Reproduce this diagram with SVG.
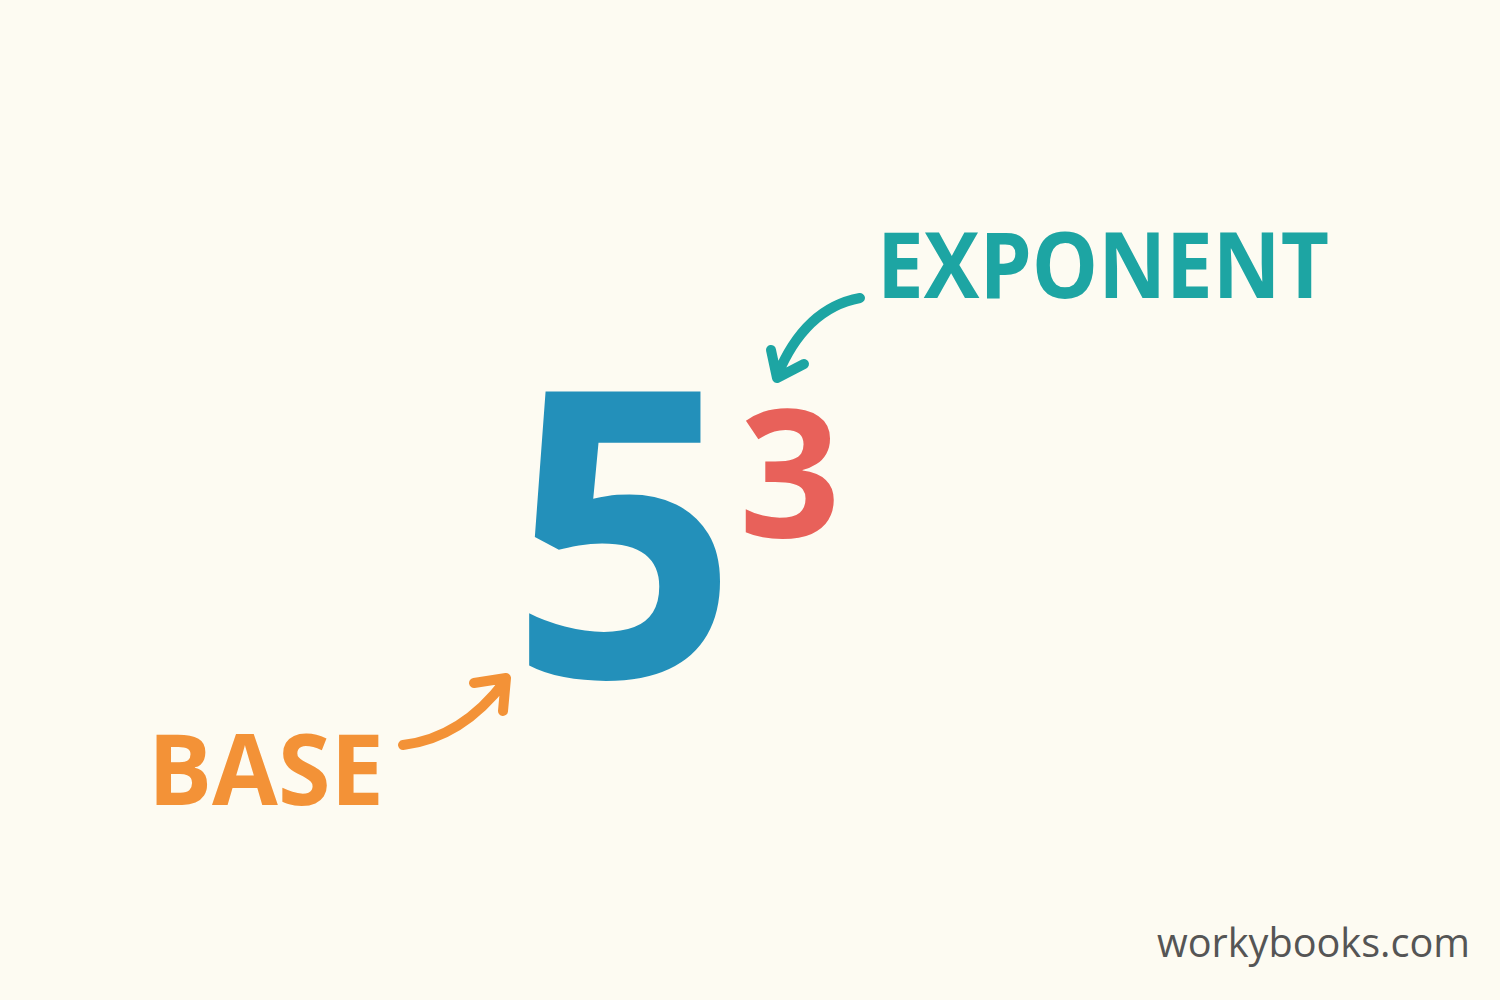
<svg xmlns="http://www.w3.org/2000/svg" width="1500" height="1000" viewBox="0 0 1500 1000">
<defs>
<style>
.lbl{font-family:"Open Sans","Liberation Sans",sans-serif;font-weight:700}
.arr{fill:none;stroke-width:10;stroke-linecap:round;stroke-linejoin:round}
</style>
</defs>
<rect width="1500" height="1000" fill="#FDFBF2"/>
<g id="base-number"><text class="lbl" x="624" y="677" font-size="400" text-anchor="middle" fill="#2390BA">5</text></g>
<g id="exponent-number"><text class="lbl" x="790" y="537" font-size="178" text-anchor="middle" fill="#E8615A">3</text></g>
<g id="exponent-label"><text class="lbl" x="877" y="298" font-size="91" textLength="452" lengthAdjust="spacingAndGlyphs" fill="#1DA5A3">EXPONENT</text></g>
<g id="base-label"><text class="lbl" x="148" y="805" font-size="98" textLength="236" lengthAdjust="spacingAndGlyphs" fill="#F39237">BASE</text></g>
<g id="connectors">
<path class="arr" stroke="#1DA5A3" d="M860,298 Q805,308 777,376 M771,350 L777,378 L804,364"/>
<path class="arr" stroke="#F39237" d="M403,745 Q462,738 505,681 M474,683 L506,678 L503,711"/>
</g>
<g id="watermark"><text x="1157" y="957" font-family="'Open Sans','Liberation Sans',sans-serif" font-size="40" textLength="313" lengthAdjust="spacingAndGlyphs" fill="#555555">workybooks.com</text></g>
</svg>
